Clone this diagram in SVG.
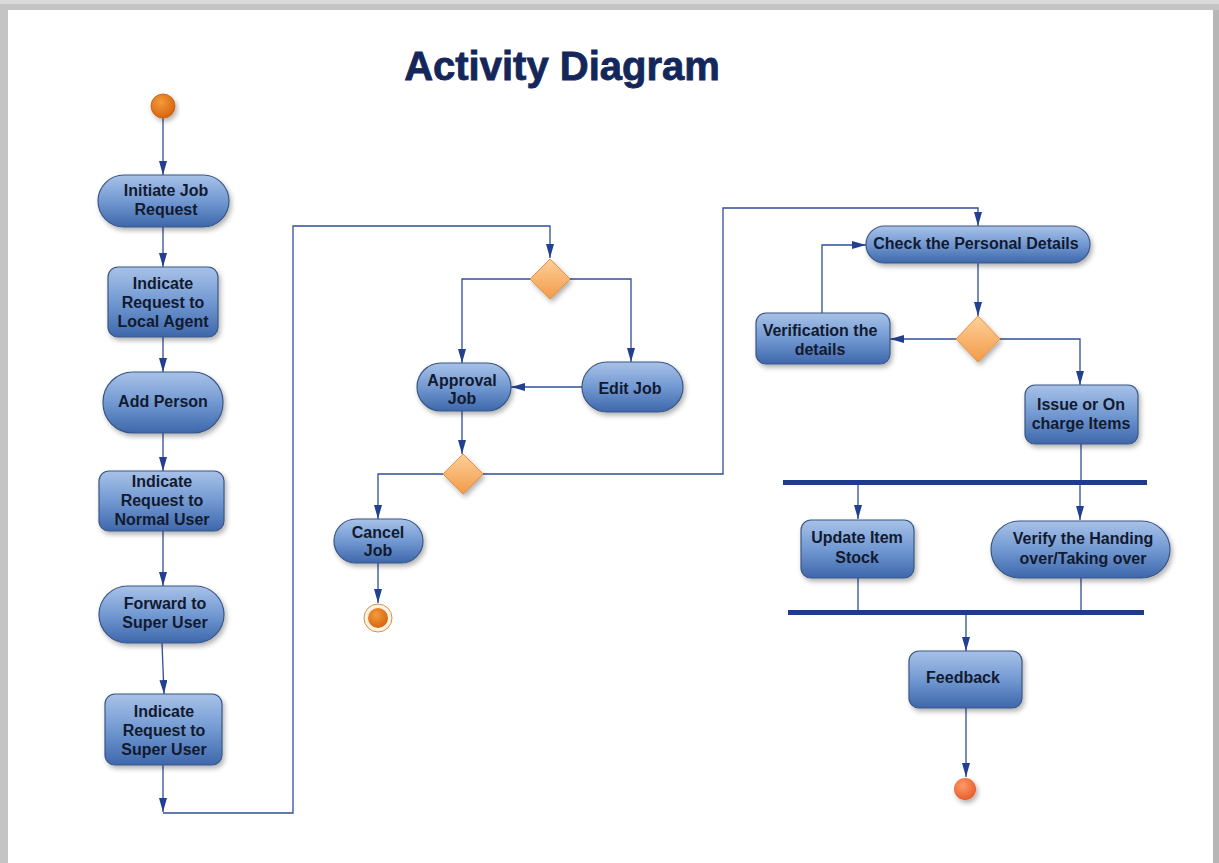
<svg xmlns="http://www.w3.org/2000/svg" width="1219" height="863" viewBox="0 0 1219 863">
<defs>
<linearGradient id="nodeGrad" x1="0" y1="0" x2="0" y2="1">
<stop offset="0" stop-color="#a8c2e8"/>
<stop offset="0.5" stop-color="#7299d2"/>
<stop offset="1" stop-color="#3e67ab"/>
</linearGradient>
<linearGradient id="decGrad" x1="0" y1="0" x2="0" y2="1">
<stop offset="0" stop-color="#fdd09a"/>
<stop offset="1" stop-color="#f39a48"/>
</linearGradient>
<radialGradient id="startGrad" cx="0.4" cy="0.35" r="0.7">
<stop offset="0" stop-color="#f59a3c"/>
<stop offset="1" stop-color="#d4620c"/>
</radialGradient>
<radialGradient id="endGrad" cx="0.4" cy="0.35" r="0.7">
<stop offset="0" stop-color="#ff9a6a"/>
<stop offset="1" stop-color="#e45a26"/>
</radialGradient>
<filter id="sh" x="-20%" y="-20%" width="140%" height="150%">
<feDropShadow dx="2" dy="3" stdDeviation="2.5" flood-color="#000" flood-opacity="0.3"/>
</filter>
<marker id="arr" viewBox="0 0 14 8" refX="14" refY="4" markerWidth="14" markerHeight="8" markerUnits="userSpaceOnUse" orient="auto">
<path d="M0,0 L14,4 L0,8 Z" fill="#22408f"/>
</marker>
<style>
.node{fill:url(#nodeGrad);stroke:#3a5684;stroke-width:1.2;filter:url(#sh)}
.dec{fill:url(#decGrad);stroke:#e8923e;stroke-width:1;filter:url(#sh)}
.lbl{font-family:"Liberation Sans",Arial,sans-serif;font-weight:bold;font-size:16px;fill:#121a30;text-anchor:middle}
.conn{fill:none;stroke:#2f4e98;stroke-width:1.3}
.arr{marker-end:url(#arr)}
.bar{fill:#1f3b8c}
</style>
</defs>
<rect x="0" y="0" width="1219" height="863" fill="#c4c4c4"/>
<rect x="0" y="0" width="1219" height="4" fill="#d9d9d9"/>
<rect x="8" y="10" width="1205" height="853" fill="#ffffff"/>
<rect x="1213" y="10" width="6" height="853" fill="#b6b6b6"/>

<text x="562" y="80" font-family="'Liberation Sans',Arial,sans-serif" font-weight="bold" font-size="40" fill="#13275a" stroke="#13275a" stroke-width="0.8" text-anchor="middle">Activity Diagram</text>

<g id="connectors">
<path class="conn arr" d="M163,118 V175"/>
<path class="conn arr" d="M163,227 V267"/>
<path class="conn arr" d="M163,337 V372"/>
<path class="conn arr" d="M163,433 V471"/>
<path class="conn arr" d="M163,531 V586"/>
<path class="conn arr" d="M162,643 L164,694"/>
<path class="conn arr" d="M163,765 V812"/>
<path class="conn arr" d="M163,813 H293 V226 H550 V258"/>
<path class="conn arr" d="M530,279 H462 V363"/>
<path class="conn arr" d="M570,279 H631 V362"/>
<path class="conn arr" d="M582,387 H511"/>
<path class="conn arr" d="M462,411 V454"/>
<path class="conn arr" d="M443,474 H378 V519"/>
<path class="conn arr" d="M483,474 H723 V208 H978 V226"/>
<path class="conn arr" d="M378,563 V603"/>
<path class="conn arr" d="M978,263 V316"/>
<path class="conn arr" d="M956,339 H890"/>
<path class="conn arr" d="M1000,339 H1080 V385"/>
<path class="conn arr" d="M822,313 V245 H866"/>
<path class="conn" d="M1081,444 V481"/>
<path class="conn arr" d="M858,484 V519"/>
<path class="conn arr" d="M1080,484 V520"/>
<path class="conn" d="M858,578 V611"/>
<path class="conn" d="M1081,578 V611"/>
<path class="conn arr" d="M966,614 V651"/>
<path class="conn arr" d="M966,708 V777"/>
</g>

<g id="start"><circle cx="163" cy="106" r="12" fill="url(#startGrad)" stroke="#c85a10" stroke-width="0.8" filter="url(#sh)"/></g>

<g id="n-initiate"><rect class="node" x="98" y="175" width="131" height="52" rx="26"/><text class="lbl" x="166" y="196">Initiate Job</text><text class="lbl" x="166" y="215">Request</text></g>
<g id="n-local"><rect class="node" x="108" y="267" width="110" height="70" rx="10"/><text class="lbl" x="163" y="289">Indicate</text><text class="lbl" x="163" y="308">Request to</text><text class="lbl" x="163" y="327">Local Agent</text></g>
<g id="n-addperson"><rect class="node" x="103" y="372" width="120" height="61" rx="30"/><text class="lbl" x="163" y="407">Add Person</text></g>
<g id="n-normal"><rect class="node" x="99" y="471" width="125" height="60" rx="10"/><text class="lbl" x="162" y="487">Indicate</text><text class="lbl" x="162" y="506">Request to</text><text class="lbl" x="162" y="525">Normal User</text></g>
<g id="n-forward"><rect class="node" x="99" y="586" width="125" height="57" rx="28.5"/><text class="lbl" x="165" y="609">Forward to</text><text class="lbl" x="165" y="628">Super User</text></g>
<g id="n-super"><rect class="node" x="105" y="694" width="117" height="71" rx="10"/><text class="lbl" x="164" y="717">Indicate</text><text class="lbl" x="164" y="736">Request to</text><text class="lbl" x="164" y="755">Super User</text></g>

<g id="d-1"><path class="dec" d="M550,259 L570,279 L550,299 L530,279 Z"/></g>
<g id="n-approval"><rect class="node" x="417" y="363" width="94" height="48" rx="24"/><text class="lbl" x="462" y="386">Approval</text><text class="lbl" x="462" y="404">Job</text></g>
<g id="n-edit"><rect class="node" x="582" y="362" width="101" height="50" rx="25"/><text class="lbl" x="630" y="394">Edit Job</text></g>
<g id="d-2"><path class="dec" d="M463,454 L483,474 L463,494 L443,474 Z"/></g>
<g id="n-cancel"><rect class="node" x="334" y="519" width="89" height="44" rx="22"/><text class="lbl" x="378" y="538">Cancel</text><text class="lbl" x="378" y="556">Job</text></g>
<g id="end-1"><circle cx="378" cy="618" r="14" fill="#fdf1e2" stroke="#d8904a" stroke-width="1"/><circle cx="378" cy="618" r="10" fill="url(#startGrad)"/></g>

<g id="n-check"><rect class="node" x="866" y="226" width="224" height="37" rx="18.5"/><text class="lbl" x="976" y="249">Check the Personal Details</text></g>
<g id="d-3"><path class="dec" d="M978,316 L1000,339 L978,362 L956,339 Z"/></g>
<g id="n-verification"><rect class="node" x="756" y="313" width="134" height="51" rx="10"/><text class="lbl" x="820" y="336">Verification the</text><text class="lbl" x="820" y="355">details</text></g>
<g id="n-issue"><rect class="node" x="1025" y="385" width="113" height="59" rx="10"/><text class="lbl" x="1081" y="410">Issue or On</text><text class="lbl" x="1081" y="429">charge Items</text></g>
<g id="fork"><rect class="bar" x="783" y="480" width="364" height="5"/></g>
<g id="n-update"><rect class="node" x="801" y="520" width="113" height="58" rx="10"/><text class="lbl" x="857" y="543">Update Item</text><text class="lbl" x="857" y="563">Stock</text></g>
<g id="n-verify"><rect class="node" x="991" y="521" width="179" height="57" rx="28.5"/><text class="lbl" x="1083" y="544">Verify the Handing</text><text class="lbl" x="1083" y="564">over/Taking over</text></g>
<g id="join"><rect class="bar" x="788" y="610" width="356" height="5"/></g>
<g id="n-feedback"><rect class="node" x="909" y="651" width="113" height="57" rx="10"/><text class="lbl" x="963" y="683">Feedback</text></g>
<g id="end-2"><circle cx="965" cy="789" r="11" fill="url(#endGrad)" filter="url(#sh)"/></g>
</svg>
